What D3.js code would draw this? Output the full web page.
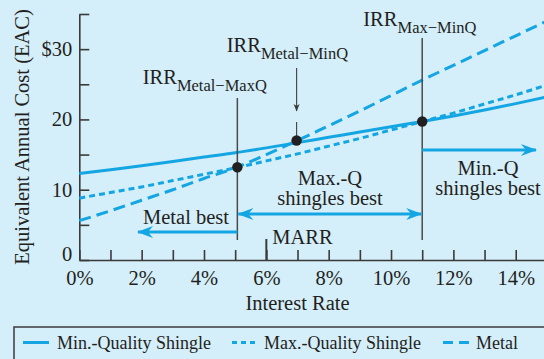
<!DOCTYPE html>
<html>
<head>
<meta charset="utf-8">
<script src="https://cdn.jsdelivr.net/npm/d3@7"></script>
<style>
  html, body { margin: 0; padding: 0; background: #d4eefa; }
  svg { display: block; }
  text { font-family: "Liberation Serif", "Times New Roman", serif; fill: #231f20; }
</style>
</head>
<body>
<svg id="chart" width="544" height="359"></svg>
<script>
// ---- data ----
const rates = [0, 1, 2, 3, 4, 5, 6, 7, 8, 9, 10, 11, 12, 13, 14, 15];
const minQuality = [12.3, 12.85, 13.4, 14.0, 14.65, 15.25, 15.95, 16.7, 17.45, 18.2, 18.95, 19.7, 20.5, 21.35, 22.25, 23.2];
const maxQuality = [8.8, 9.6, 10.4, 11.3, 12.2, 13.1, 14.1, 15.1, 16.2, 17.3, 18.5, 19.7, 20.9, 22.2, 23.5, 24.9];
const metal      = [5.6, 7.0, 8.5, 10.0, 11.6, 13.1, 15.0, 17.0, 19.1, 21.2, 23.4, 25.6, 27.7, 29.8, 31.9, 34.0];
const seriesNames = ["Min.-Quality Shingle", "Max.-Quality Shingle", "Metal"];
const irrLabels = ["Metal\u2212MaxQ", "Metal\u2212MinQ", "Max\u2212MinQ"];
const irrRates  = [5.07, 6.97, 11.0];
const irrValues = [13.2, 17.0, 19.7];
const marr = 6;
const xTicks = [0, 1, 2, 3, 4, 5, 6, 7, 8, 9, 10, 11, 12, 13, 14, 15];
const xTickLabels = ["0%", "", "2%", "", "4%", "", "6%", "", "8%", "", "10%", "", "12%", "", "14%", ""];
const yTicks = [0, 5, 10, 15, 20, 25, 30, 35];
const yTickLabels = ["0", "", "10", "", "20", "", "$30", ""];

// ---- setup ----
const blue = "#14a6e3";
const ink = "#231f20";
const axisCol = "#3a3a3a";
const svg = d3.select("#chart");
const x = d3.scaleLinear().domain([0, 15]).range([79.3, 546.9]);
const y = d3.scaleLinear().domain([0, 35]).range([260, 14]);

// arrow marker
const defs = svg.append("defs");
defs.append("marker")
  .attr("id", "ah").attr("markerUnits", "userSpaceOnUse")
  .attr("viewBox", "-16 -7 18 14").attr("refX", 0).attr("refY", 0)
  .attr("markerWidth", 18).attr("markerHeight", 14).attr("orient", "auto-start-reverse")
  .append("path").attr("d", "M1,0 L-15,-6 L-10,0 L-15,6 Z").attr("fill", blue);
defs.append("marker")
  .attr("id", "ahk").attr("markerUnits", "userSpaceOnUse")
  .attr("viewBox", "-8 -4 9 8").attr("refX", 0).attr("refY", 0)
  .attr("markerWidth", 9).attr("markerHeight", 8).attr("orient", "auto")
  .append("path").attr("d", "M0.5,0 L-7,-3 L-5,0 L-7,3 Z").attr("fill", axisCol);

// ---- axes ----
const yAxis = d3.axisLeft(y).tickValues(yTicks)
  .tickFormat((d, i) => yTickLabels[i]).tickSizeInner(-10).tickSizeOuter(0).tickPadding(7);
const gy = svg.append("g").attr("transform", `translate(${x(0)},0)`).call(yAxis);
const xAxis = d3.axisBottom(x).tickValues(xTicks)
  .tickFormat((d, i) => xTickLabels[i]).tickSizeInner(-10).tickSizeOuter(0).tickPadding(10);
const gx = svg.append("g").attr("transform", `translate(0,${y(0)})`).call(xAxis);
[gx, gy].forEach(g => {
  g.select(".domain").attr("stroke", axisCol).attr("stroke-width", 1.6);
  g.selectAll(".tick line").attr("stroke", axisCol).attr("stroke-width", 1.6);
  g.selectAll(".tick text").attr("font-size", 20.5).attr("fill", ink)
    .style("font-family", '"Liberation Serif", serif');
});
// the "0" label sits slightly above its tick in the reference
gy.selectAll(".tick text").filter(d => d === 0).attr("y", -6);

// axis titles
svg.append("text").attr("x", x(7)).attr("y", 310).attr("text-anchor", "middle")
  .attr("font-size", 20.5).text("Interest Rate");
svg.append("text").attr("transform", `translate(29,${137}) rotate(-90)`)
  .attr("text-anchor", "middle").attr("font-size", 20.5).text("Equivalent Annual Cost (EAC)");

// ---- series lines ----
const series = [
  { name: seriesNames[0], vals: minQuality, dash: null, legDash: null },
  { name: seriesNames[1], vals: maxQuality, dash: "6,4", legDash: "5,4" },
  { name: seriesNames[2], vals: metal, dash: "12,6", legDash: "10,6" }
];
const line = d3.line().x((d, i) => x(rates[i])).y(d => y(d)).curve(d3.curveMonotoneX);
series.forEach(s => {
  svg.append("path").datum(s.vals).attr("d", line)
    .attr("fill", "none").attr("stroke", blue).attr("stroke-width", 3)
    .attr("stroke-dasharray", s.dash);
});

// ---- IRR annotations ----
const vcol = "#4a4a4a";
svg.append("line").attr("x1", x(irrRates[0])).attr("x2", x(irrRates[0]))
  .attr("y1", 98).attr("y2", 240).attr("stroke", vcol).attr("stroke-width", 1.5);
svg.append("line").attr("x1", x(irrRates[2])).attr("x2", x(irrRates[2]))
  .attr("y1", 38).attr("y2", 240).attr("stroke", vcol).attr("stroke-width", 1.5);
svg.append("line").attr("x1", x(irrRates[1])).attr("x2", x(irrRates[1]))
  .attr("y1", 68).attr("y2", 111).attr("stroke", vcol).attr("stroke-width", 1.2)
  .attr("marker-end", "url(#ahk)");
svg.append("line").attr("x1", x(irrRates[1])).attr("x2", x(irrRates[1]))
  .attr("y1", 122).attr("y2", y(irrValues[1])).attr("stroke", vcol).attr("stroke-width", 1.2);

// MARR marker
svg.append("line").attr("x1", x(marr)).attr("x2", x(marr))
  .attr("y1", 239).attr("y2", y(0)).attr("stroke", axisCol).attr("stroke-width", 2);
svg.append("text").attr("x", x(marr) + 6).attr("y", 244).attr("font-size", 20.5).text("MARR");

// dots
irrRates.forEach((r, i) => {
  svg.append("circle").attr("cx", x(r)).attr("cy", y(irrValues[i])).attr("r", 5.2).attr("fill", ink);
});

// IRR labels
const irrPos = [[142.7, 84.3], [226.7, 52.3], [363.3, 26]];
irrLabels.forEach((lab, i) => {
  const t = svg.append("text").attr("x", irrPos[i][0]).attr("y", irrPos[i][1]).attr("font-size", 20.5);
  t.append("tspan").text("IRR");
  t.append("tspan").attr("dy", 6.5).attr("font-size", 16.5).text(lab);
});

// ---- region arrows ----
function arrow(x1, x2, yy, both) {
  const l = svg.append("line").attr("x1", x1).attr("x2", x2).attr("y1", yy).attr("y2", yy)
    .attr("stroke", blue).attr("stroke-width", 3).attr("marker-end", "url(#ah)");
  if (both) l.attr("marker-start", "url(#ah)");
}
arrow(x(irrRates[0]), 138, 232, false);
arrow(x(irrRates[0]) + 1, x(irrRates[2]) - 1, 214, true);
arrow(x(irrRates[2]), 536, 150, false);

svg.append("text").attr("x", 186).attr("y", 224).attr("text-anchor", "middle").attr("font-size", 20.5).text("Metal best");
svg.append("text").attr("x", 330).attr("y", 185).attr("text-anchor", "middle").attr("font-size", 20.5).text("Max.-Q");
svg.append("text").attr("x", 330).attr("y", 205).attr("text-anchor", "middle").attr("font-size", 20.5).text("shingles best");
svg.append("text").attr("x", 488).attr("y", 175).attr("text-anchor", "middle").attr("font-size", 20.5).text("Min.-Q");
svg.append("text").attr("x", 488).attr("y", 195).attr("text-anchor", "middle").attr("font-size", 20.5).text("shingles best");

// ---- legend ----
svg.append("rect").attr("x", 14).attr("y", 327).attr("width", 600).attr("height", 60)
  .attr("fill", "none").attr("stroke", "#3a3a3a").attr("stroke-width", 1.5);
const legX = [[23, 57], [232, 264], [443, 476]];
series.forEach((s, i) => {
  svg.append("line").attr("x1", legX[i][0]).attr("x2", legX[i][0] + 26)
    .attr("y1", 342.5).attr("y2", 342.5).attr("stroke", blue).attr("stroke-width", 3)
    .attr("stroke-dasharray", s.legDash);
  svg.append("text").attr("x", legX[i][1]).attr("y", 348.5).attr("font-size", 18).text(s.name);
});
</script>
</body>
</html>
